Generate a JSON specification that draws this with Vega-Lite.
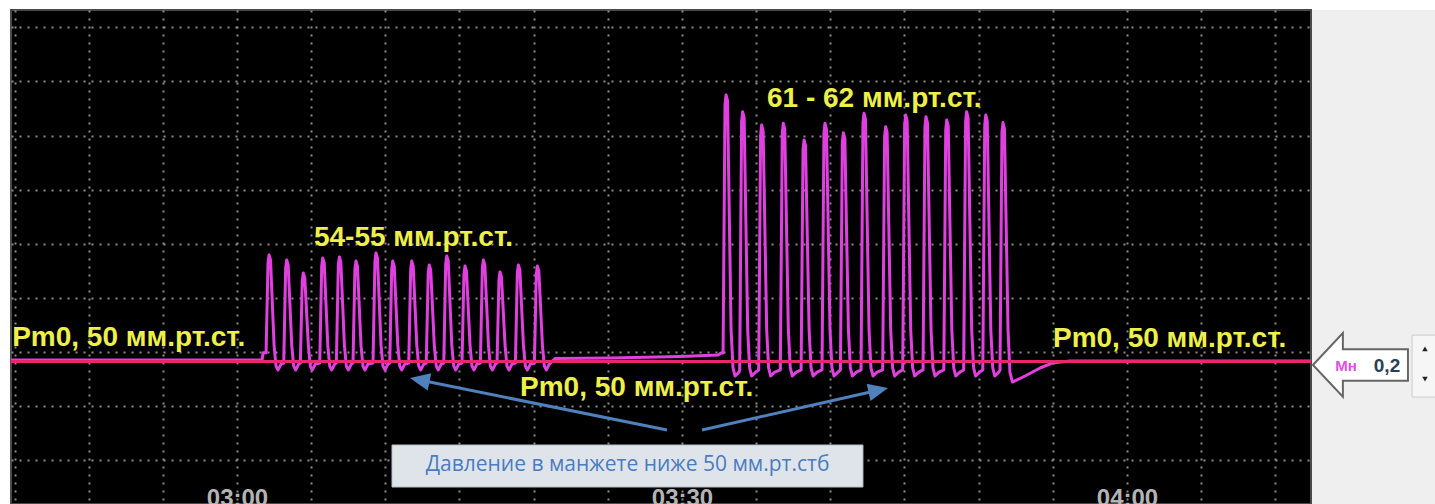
{
  "$schema": "https://vega.github.io/schema/vega-lite/v6.json",
  "width": 1300,
  "height": 494,
  "autosize": {"type": "none"},
  "padding": {"left": 11, "top": 10, "right": 124, "bottom": 0},
  "background": "white",
  "config": {"view": {"fill": "black", "stroke": "#4a4a4a", "strokeWidth": 2}},
  "encoding": {
    "x": {
      "field": "t", "type": "quantitative",
      "scale": {"domain": [164.764, 252.406], "nice": false, "zero": false},
      "axis": {
        "title": null,
        "values": [165,170,175,180,185,190,195,200,205,210,215,220,225,230,235,240,245,250],
        "labelExpr": "datum.value % 30 == 0 ? ('0' + floor(datum.value / 60) + ':' + (datum.value % 60 == 0 ? '00' : '30')) : ''",
        "grid": true, "gridColor": "#8c8c8c", "gridDash": [2, 6], "gridWidth": 2,
        "domain": false, "ticks": false,
        "labelFont": "Liberation Sans", "labelFontSize": 24, "labelFontWeight": "bold", "labelColor": "#b4b4b4",
        "labelPadding": -18, "labelBaseline": "top", "labelOverlap": false, "labelFlush": false
      }
    },
    "y": {
      "field": "p", "type": "quantitative",
      "scale": {"domain": [43.415, 66.243], "nice": false, "zero": false},
      "axis": {
        "title": null,
        "values": [45.439, 47.939, 50.439, 52.939, 55.439, 57.939, 60.439, 62.939, 65.439],
        "labels": false, "ticks": false, "domain": false,
        "grid": true, "gridColor": "#8c8c8c", "gridDash": [2, 6], "gridWidth": 2
      }
    }
  },
  "layer": [
    {
      "data": {"values": [{"t": 252.474, "t2": 262, "p": 66.243, "p2": 40}]},
      "mark": {"type": "rect", "fill": "#efefef"},
      "encoding": {"x2": {"field": "t2"}, "y2": {"field": "p2"}}
    },
    {
      "data": {"values": [
        {"t":164.76,"p":50.07},{"t":181.69,"p":50.07},{"t":181.76,"p":50.40},
        {"t":181.96,"p":50.40},{"t":182.09,"p":54.55},{"t":182.16,"p":54.92},{"t":182.26,"p":54.69},{"t":182.50,"p":50.76},{"t":182.63,"p":49.79},{"t":182.77,"p":49.61},{"t":182.97,"p":49.88},
        {"t":183.15,"p":49.93},{"t":183.28,"p":54.32},{"t":183.35,"p":54.69},{"t":183.45,"p":54.46},{"t":183.69,"p":50.76},{"t":183.82,"p":49.79},{"t":183.96,"p":49.61},{"t":184.16,"p":49.88},
        {"t":184.27,"p":49.93},{"t":184.40,"p":53.72},{"t":184.47,"p":54.09},{"t":184.57,"p":53.86},{"t":184.81,"p":50.76},{"t":184.94,"p":49.79},{"t":185.08,"p":49.61},{"t":185.28,"p":49.88},
        {"t":185.58,"p":49.93},{"t":185.71,"p":54.41},{"t":185.78,"p":54.78},{"t":185.88,"p":54.55},{"t":186.12,"p":50.76},{"t":186.25,"p":49.79},{"t":186.39,"p":49.61},{"t":186.59,"p":49.88},
        {"t":186.70,"p":49.93},{"t":186.83,"p":54.46},{"t":186.90,"p":54.83},{"t":187.00,"p":54.60},{"t":187.24,"p":50.76},{"t":187.37,"p":49.79},{"t":187.51,"p":49.61},{"t":187.71,"p":49.88},
        {"t":187.82,"p":49.93},{"t":187.95,"p":54.27},{"t":188.02,"p":54.64},{"t":188.12,"p":54.41},{"t":188.36,"p":50.76},{"t":188.49,"p":49.79},{"t":188.63,"p":49.61},{"t":188.83,"p":49.88},
        {"t":189.17,"p":49.93},{"t":189.30,"p":54.64},{"t":189.37,"p":55.01},{"t":189.47,"p":54.78},{"t":189.71,"p":50.76},{"t":189.84,"p":49.79},{"t":189.98,"p":49.61},{"t":190.18,"p":49.88},
        {"t":190.30,"p":49.93},{"t":190.43,"p":54.27},{"t":190.50,"p":54.64},{"t":190.60,"p":54.41},{"t":190.84,"p":50.76},{"t":190.97,"p":49.79},{"t":191.11,"p":49.61},{"t":191.31,"p":49.88},
        {"t":191.58,"p":49.93},{"t":191.71,"p":54.27},{"t":191.78,"p":54.64},{"t":191.88,"p":54.41},{"t":192.12,"p":50.76},{"t":192.25,"p":49.79},{"t":192.39,"p":49.61},{"t":192.59,"p":49.88},
        {"t":192.76,"p":49.93},{"t":192.89,"p":54.09},{"t":192.96,"p":54.46},{"t":193.06,"p":54.23},{"t":193.30,"p":50.76},{"t":193.43,"p":49.79},{"t":193.57,"p":49.61},{"t":193.77,"p":49.88},
        {"t":193.94,"p":49.93},{"t":194.07,"p":54.51},{"t":194.14,"p":54.88},{"t":194.24,"p":54.65},{"t":194.48,"p":50.76},{"t":194.61,"p":49.79},{"t":194.75,"p":49.61},{"t":194.95,"p":49.88},
        {"t":195.17,"p":49.93},{"t":195.30,"p":54.04},{"t":195.37,"p":54.41},{"t":195.47,"p":54.18},{"t":195.71,"p":50.76},{"t":195.84,"p":49.79},{"t":195.98,"p":49.61},{"t":196.18,"p":49.88},
        {"t":196.41,"p":49.93},{"t":196.54,"p":54.32},{"t":196.61,"p":54.69},{"t":196.71,"p":54.46},{"t":196.95,"p":50.76},{"t":197.08,"p":49.79},{"t":197.22,"p":49.61},{"t":197.42,"p":49.88},
        {"t":197.53,"p":49.93},{"t":197.66,"p":53.77},{"t":197.73,"p":54.14},{"t":197.83,"p":53.91},{"t":198.07,"p":50.76},{"t":198.20,"p":49.79},{"t":198.34,"p":49.61},{"t":198.54,"p":49.88},
        {"t":198.77,"p":49.93},{"t":198.90,"p":54.09},{"t":198.97,"p":54.46},{"t":199.07,"p":54.23},{"t":199.31,"p":50.76},{"t":199.44,"p":49.79},{"t":199.58,"p":49.61},{"t":199.78,"p":49.88},
        {"t":200.05,"p":49.93},{"t":200.18,"p":54.04},{"t":200.25,"p":54.41},{"t":200.35,"p":54.18},{"t":200.59,"p":50.76},{"t":200.72,"p":49.79},{"t":200.86,"p":49.61},{"t":201.06,"p":49.88},
        {"t":201.44,"p":50.14},{"t":205.15,"p":50.16},{"t":209.87,"p":50.23},{"t":212.43,"p":50.30},{"t":212.63,"p":50.39},
        {"t":212.77,"p":50.39},{"t":212.90,"p":61.86},{"t":212.97,"p":62.32},{"t":213.07,"p":62.04},{"t":213.31,"p":51.46},{"t":213.44,"p":49.70},{"t":213.58,"p":49.33},{"t":213.85,"p":49.51},
        {"t":213.89,"p":49.61},{"t":214.02,"p":61.08},{"t":214.09,"p":61.54},{"t":214.19,"p":61.26},{"t":214.43,"p":51.46},{"t":214.56,"p":49.70},{"t":214.70,"p":49.33},{"t":214.97,"p":49.51},
        {"t":215.17,"p":49.61},{"t":215.30,"p":60.47},{"t":215.37,"p":60.93},{"t":215.47,"p":60.65},{"t":215.71,"p":51.46},{"t":215.84,"p":49.70},{"t":215.98,"p":49.33},{"t":216.25,"p":49.51},
        {"t":216.63,"p":49.61},{"t":216.76,"p":60.55},{"t":216.83,"p":61.01},{"t":216.93,"p":60.73},{"t":217.17,"p":51.46},{"t":217.30,"p":49.70},{"t":217.44,"p":49.33},{"t":217.71,"p":49.51},
        {"t":218.03,"p":49.61},{"t":218.16,"p":59.78},{"t":218.23,"p":60.24},{"t":218.33,"p":59.96},{"t":218.57,"p":51.46},{"t":218.70,"p":49.70},{"t":218.84,"p":49.33},{"t":219.11,"p":49.51},
        {"t":219.44,"p":49.61},{"t":219.57,"p":60.55},{"t":219.64,"p":61.01},{"t":219.74,"p":60.73},{"t":219.98,"p":51.46},{"t":220.11,"p":49.70},{"t":220.25,"p":49.33},{"t":220.52,"p":49.51},
        {"t":220.68,"p":49.61},{"t":220.81,"p":60.11},{"t":220.88,"p":60.57},{"t":220.98,"p":60.29},{"t":221.22,"p":51.46},{"t":221.35,"p":49.70},{"t":221.49,"p":49.33},{"t":221.76,"p":49.51},
        {"t":222.07,"p":49.61},{"t":222.20,"p":61.01},{"t":222.27,"p":61.47},{"t":222.37,"p":61.19},{"t":222.61,"p":51.46},{"t":222.74,"p":49.70},{"t":222.88,"p":49.33},{"t":223.15,"p":49.51},
        {"t":223.53,"p":49.61},{"t":223.66,"p":60.39},{"t":223.73,"p":60.85},{"t":223.83,"p":60.57},{"t":224.07,"p":51.46},{"t":224.20,"p":49.70},{"t":224.34,"p":49.33},{"t":224.61,"p":49.51},
        {"t":224.88,"p":49.61},{"t":225.01,"p":60.93},{"t":225.08,"p":61.39},{"t":225.18,"p":61.11},{"t":225.42,"p":51.46},{"t":225.55,"p":49.70},{"t":225.69,"p":49.33},{"t":225.96,"p":49.51},
        {"t":226.25,"p":49.61},{"t":226.38,"p":60.85},{"t":226.45,"p":61.31},{"t":226.55,"p":61.03},{"t":226.79,"p":51.46},{"t":226.92,"p":49.70},{"t":227.06,"p":49.33},{"t":227.33,"p":49.51},
        {"t":227.65,"p":49.61},{"t":227.78,"p":60.70},{"t":227.85,"p":61.16},{"t":227.95,"p":60.88},{"t":228.19,"p":51.46},{"t":228.32,"p":49.70},{"t":228.46,"p":49.33},{"t":228.73,"p":49.51},
        {"t":228.99,"p":49.61},{"t":229.12,"p":61.08},{"t":229.19,"p":61.54},{"t":229.29,"p":61.26},{"t":229.53,"p":51.46},{"t":229.66,"p":49.70},{"t":229.80,"p":49.33},{"t":230.07,"p":49.51},
        {"t":230.28,"p":49.61},{"t":230.41,"p":60.93},{"t":230.48,"p":61.39},{"t":230.58,"p":61.11},{"t":230.82,"p":51.46},{"t":230.95,"p":49.70},{"t":231.09,"p":49.33},{"t":231.36,"p":49.51},
        {"t":231.44,"p":49.61},{"t":231.57,"p":60.58},{"t":231.64,"p":61.04},{"t":231.74,"p":60.76},{"t":231.98,"p":51.46},{"t":232.11,"p":49.50},{"t":232.28,"p":49.05},
        {"t":233.13,"p":49.33},{"t":234.14,"p":49.70},{"t":234.95,"p":49.93},{"t":236.16,"p":50.02},{"t":252.40,"p":50.02}
      ]},
      "mark": {"type": "line", "color": "#e040e0", "strokeWidth": 3, "strokeJoin": "round"}
    },
    {
      "data": {"values": [{"t": 164.764, "t2": 252.406, "p": 50}]},
      "mark": {"type": "rule", "color": "#e8286e", "strokeWidth": 3},
      "encoding": {"x2": {"field": "t2"}}
    },
    {
      "data": {"values": [
        {"t": 164.84, "p": 50.716, "label": "Pm0, 50 мм.рт.ст."},
        {"t": 185.19, "p": 55.337, "label": "54-55 мм.рт.ст."},
        {"t": 215.73, "p": 61.761, "label": "61 - 62 мм.рт.ст."},
        {"t": 199.08, "p": 48.406, "label": "Pm0, 50 мм.рт.ст."},
        {"t": 235.01, "p": 50.670, "label": "Pm0, 50 мм.рт.ст."}
      ]},
      "mark": {"type": "text", "align": "left", "baseline": "alphabetic", "font": "Liberation Sans", "fontWeight": "bold", "fontSize": 28, "fill": "#eef04a"},
      "encoding": {"text": {"field": "label"}}
    },
    {
      "data": {"values": [
        {"t": 208.99, "p": 46.835, "arrow": "a"}, {"t": 192.32, "p": 49.145, "arrow": "a"},
        {"t": 211.35, "p": 46.835, "arrow": "b"}, {"t": 223.23, "p": 48.674, "arrow": "b"}
      ]},
      "mark": {"type": "line", "color": "#4f81bd", "strokeWidth": 3},
      "encoding": {"detail": {"field": "arrow"}}
    },
    {
      "data": {"values": [{"t": 191.66, "p": 49.238}]},
      "mark": {"type": "point", "shape": "M0,0L0.75,1.7L-0.75,1.7Z", "size": 550, "angle": 281.4, "filled": true, "fill": "#4f81bd", "stroke": null, "opacity": 1}
    },
    {
      "data": {"values": [{"t": 223.89, "p": 48.775}]},
      "mark": {"type": "point", "shape": "M0,0L0.75,1.7L-0.75,1.7Z", "size": 550, "angle": 77.3, "filled": true, "fill": "#4f81bd", "stroke": null, "opacity": 1}
    },
    {
      "data": {"values": [{"t": 190.45, "t2": 222.20, "p": 46.141, "p2": 44.20}]},
      "mark": {"type": "rect", "fill": "#dfe4ea", "stroke": "#b8c0c8", "strokeWidth": 1},
      "encoding": {"x2": {"field": "t2"}, "y2": {"field": "p2"}}
    },
    {
      "data": {"values": [{"t": 206.33, "p": 45.217, "label": "Давление в манжете ниже 50 мм.рт.стб"}]},
      "mark": {"type": "text", "align": "center", "baseline": "middle", "font": "Open Sans", "fontSize": 21, "fill": "#4a7cbf"},
      "encoding": {"text": {"field": "label"}}
    },
    {
      "data": {"values": [{"t": 255.74, "p": 49.84}]},
      "mark": {"type": "point", "shape": "M-1,0L-0.37,-0.67L-0.37,-0.33L1,-0.33L1,0.33L-0.37,0.33L-0.37,0.67Z", "size": 9025, "filled": true, "fill": "white", "stroke": "#666666", "strokeWidth": 2, "opacity": 1}
    },
    {
      "data": {"values": [{"t": 259.22, "t2": 261, "p": 51.22, "p2": 48.36}]},
      "mark": {"type": "rect", "fill": "#f6f6f6", "stroke": "#cccccc", "strokeWidth": 1},
      "encoding": {"x2": {"field": "t2"}, "y2": {"field": "p2"}}
    },
    {
      "data": {"values": [{"t": 260.09, "p": 50.58}]},
      "mark": {"type": "point", "shape": "triangle-up", "size": 30, "filled": true, "fill": "#222222", "opacity": 1}
    },
    {
      "data": {"values": [{"t": 260.09, "p": 49.19}]},
      "mark": {"type": "point", "shape": "triangle-down", "size": 30, "filled": true, "fill": "#222222", "opacity": 1}
    },
    {
      "data": {"values": [{"t": 254.77, "p": 49.77, "label": "Мн"}]},
      "mark": {"type": "text", "align": "center", "baseline": "middle", "font": "Liberation Sans", "fontWeight": "bold", "fontSize": 15, "fill": "#e050e0"},
      "encoding": {"text": {"field": "label"}}
    },
    {
      "data": {"values": [{"t": 257.53, "p": 49.79, "label": "0,2"}]},
      "mark": {"type": "text", "align": "center", "baseline": "middle", "font": "Liberation Sans", "fontWeight": "bold", "fontSize": 19, "fill": "#2c3e55"},
      "encoding": {"text": {"field": "label"}}
    }
  ]
}
